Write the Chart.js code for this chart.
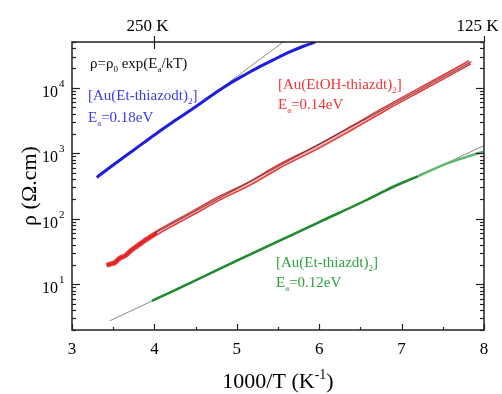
<!DOCTYPE html>
<html><head><meta charset="utf-8">
<script src="https://cdn.jsdelivr.net/npm/chart.js@4"></script>
<style>html,body{margin:0;padding:0;background:#fff;}canvas{display:block;}</style>
</head><body>
<canvas id="c" width="502" height="394"></canvas>
<script>
// ---- axis ranges / ticks ----
const xRange = [3, 8];
const yRange = [2, 50000];
const xTickValues = [3, 4, 5, 6, 7, 8];
const yDecadeValues = [10, 100, 1000, 10000];
const yDecadeExponents = ['1', '2', '3', '4'];
const topTickValues = [4, 8];
const topTickLabels = ['250 K', '125 K'];

// ---- [Au(Et-thiazodt)2] (blue) ----
const blueX = [3.30, 3.33, 3.50, 3.75, 4.00, 4.25, 4.50, 4.75, 4.92, 5.08, 5.24, 5.45, 5.65, 5.80, 5.93, 5.96];
const blueY = [427, 457, 661, 1122, 1905, 3160, 5130, 8510, 11750, 15300, 19800, 26900, 35500, 42700, 49000, 51300];
const blueFitX = [4.75, 5.6];
const blueFitY = [8700, 54100];

// ---- [Au(EtOH-thiazdt)2] (red) ----
const redX = [3.42, 3.47, 3.52, 3.58, 3.65, 3.72, 3.80, 3.90, 4.03, 4.25, 4.49, 4.80, 5.16, 5.50, 5.97, 6.40, 6.78, 7.20, 7.50, 7.83];
const redY = [19.5, 20.4, 21.4, 25, 27.5, 33, 39, 48, 61, 87, 127, 209, 347, 617, 1230, 2455, 4620, 9020, 14450, 24500];
const redFitX = [4.0, 7.85];
const redFitY = [60, 25000];

// ---- [Au(Et-thiazdt)2] (green) ----
const greenX = [3.97, 4.20, 4.50, 5.00, 5.50, 6.00, 6.58, 6.86, 7.20, 7.50, 7.80, 7.99];
const greenY = [5.57, 7.6, 11.5, 22.9, 45, 89, 195, 294, 447, 660, 890, 1060];
const greenFitX = [3.46, 8.0];
const greenFitY = [2.77, 1310];

const pts = (xs, ys) => xs.map((x, i) => ({x: x, y: ys[i]}));
const SERIF = '"Liberation Serif", "DejaVu Serif", serif';

function richText(ctx, parts, x, y, size, align) {
  const fontFor = m => (m === 0 ? size : Math.round(size * 0.62)) + 'px ' + SERIF;
  let w = 0;
  parts.forEach(p => { ctx.font = fontFor(p[1]); w += ctx.measureText(p[0]).width; });
  let cx = align === 'center' ? x - w / 2 : (align === 'right' ? x - w : x);
  ctx.textAlign = 'left';
  ctx.textBaseline = 'alphabetic';
  parts.forEach(p => {
    ctx.font = fontFor(p[1]);
    const dy = p[1] === 1 ? -size * 0.42 : (p[1] === -1 ? size * 0.25 : 0);
    ctx.fillText(p[0], cx, y + dy);
    cx += ctx.measureText(p[0]).width;
  });
}

const decor = {
  id: 'decor',
  afterDraw(chart) {
    const {ctx, chartArea: a, scales: {x, y}} = chart;
    ctx.save();
    const line = (x1, y1, x2, y2) => { ctx.beginPath(); ctx.moveTo(x1, y1); ctx.lineTo(x2, y2); ctx.stroke(); };
    ctx.strokeStyle = '#222';
    ctx.lineWidth = 1.5;
    ctx.strokeRect(a.left, a.top, a.right - a.left, a.bottom - a.top);
    ctx.lineWidth = 1.2;
    for (let d = 1; d <= 10000; d *= 10) {
      for (let m = 1; m < 10; m++) {
        const v = d * m;
        if (v < yRange[0] || v > yRange[1]) continue;
        const py = Math.round(y.getPixelForValue(v)) + 0.5;
        const len = m === 1 ? 8 : 4;
        line(a.left, py, a.left + len, py);
        line(a.right, py, a.right - len, py);
      }
    }
    for (let v = xRange[0]; v <= xRange[1] + 1e-9; v += 0.5) {
      const px = Math.round(x.getPixelForValue(v)) + 0.5;
      const major = Math.abs(v - Math.round(v)) < 1e-9;
      line(px, a.bottom, px, a.bottom - (major ? 6 : 3));
    }
    ctx.fillStyle = '#000';
    topTickValues.forEach((v, i) => {
      const px = Math.round(x.getPixelForValue(v)) + 0.5;
      line(px, a.top - 6, px, a.top + (v < xRange[1] ? 7 : 0));
      ctx.font = '17px ' + SERIF;
      ctx.textAlign = 'center';
      ctx.textBaseline = 'alphabetic';
      ctx.fillText(topTickLabels[i], px - 7, a.top - 11);
    });
    yDecadeValues.forEach((v, i) => {
      const py = y.getPixelForValue(v);
      ctx.fillStyle = '#000';
      ctx.font = '16px ' + SERIF;
      ctx.textAlign = 'right';
      ctx.textBaseline = 'alphabetic';
      ctx.fillText('10', 58, py + 9);
      ctx.font = '11px ' + SERIF;
      ctx.textAlign = 'left';
      ctx.fillText(yDecadeExponents[i], 59, py - 1);
    });
    ctx.fillStyle = '#000';
    richText(ctx, [['1000/T (K', 0], ['-1', 1], [')', 0]], (a.left + a.right) / 2, 388, 22, 'center');
    ctx.save();
    ctx.translate(36, (a.top + a.bottom) / 2);
    ctx.rotate(-Math.PI / 2);
    richText(ctx, [['\u03C1 (\u03A9.cm)', 0]], 0, 0, 22, 'center');
    ctx.restore();
    ctx.fillStyle = '#111';
    richText(ctx, [['\u03C1=\u03C1', 0], ['0', -1], [' exp(E', 0], ['a', -1], ['/kT)', 0]], 90, 68, 15, 'left');
    ctx.fillStyle = '#3a3ae8';
    richText(ctx, [['[Au(Et-thiazodt)', 0], ['2', -1], [']', 0]], 88, 100, 15, 'left');
    richText(ctx, [['E', 0], ['a', -1], ['=0.18eV', 0]], 88, 122, 15, 'left');
    ctx.fillStyle = '#f03434';
    richText(ctx, [['[Au(EtOH-thiazdt)', 0], ['2', -1], [']', 0]], 278, 89, 15, 'left');
    richText(ctx, [['E', 0], ['a', -1], ['=0.14eV', 0]], 278, 109, 15, 'left');
    ctx.fillStyle = '#2f9f3f';
    richText(ctx, [['[Au(Et-thiazdt)', 0], ['2', -1], [']', 0]], 276, 267, 15, 'left');
    richText(ctx, [['E', 0], ['a', -1], ['=0.12eV', 0]], 276, 287, 15, 'left');
    ctx.restore();
  }
};

const ds = (data, color, width, order, extra) => Object.assign({
  data: data, showLine: true, pointRadius: 0, borderColor: color, borderWidth: width,
  fill: false, cubicInterpolationMode: 'monotone', order: order
}, extra || {});

new Chart(document.getElementById('c'), {
  type: 'scatter',
  data: {
    datasets: [
      ds(pts(blueFitX, blueFitY), '#8a8a8a', 1, 5, {cubicInterpolationMode: 'default', tension: 0}),
      ds(pts(blueX, blueY), '#1e1ed8', 3, 4),
      ds(pts(redX, redY), '#e83a3a', 5, 3),
      ds(pts(redX, redY), '#f6b4b4', 2, 2, {segment: {borderColor: c => c.p0.parsed.x < 4 ? '#e02020' : '#f6b4b4'}}),
      ds(pts(redFitX, redFitY), '#333333', 0.8, 1, {cubicInterpolationMode: 'default', tension: 0}),
      ds(pts(greenFitX, greenFitY), '#8a8a8a', 1, 7, {cubicInterpolationMode: 'default', tension: 0}),
      ds(pts(greenX, greenY), '#1f8a2e', 2.5, 6, {segment: {borderColor: c => c.p0.parsed.x > 6.9 ? '#5cb86a' : '#1f8a2e'}})
    ]
  },
  options: {
    responsive: false,
    animation: false,
    devicePixelRatio: 1,
    layout: {padding: {top: 42, right: 18, left: 0, bottom: 0}},
    plugins: {legend: {display: false}, tooltip: {enabled: false}},
    scales: {
      x: {
        type: 'linear', min: xRange[0], max: xRange[1],
        grid: {display: false, drawTicks: false},
        border: {display: false},
        afterBuildTicks: s => { s.ticks = xTickValues.map(v => ({value: v})); },
        ticks: {font: {family: SERIF, size: 17}, color: '#000', padding: 9, maxRotation: 0, autoSkip: false},
        afterFit: s => { s.height = 64; }
      },
      y: {
        type: 'logarithmic', min: yRange[0], max: yRange[1],
        grid: {display: false, drawTicks: false},
        border: {display: false},
        ticks: {display: false},
        afterFit: s => { s.width = 72; }
      }
    }
  },
  plugins: [decor]
});
</script>
</body></html>
